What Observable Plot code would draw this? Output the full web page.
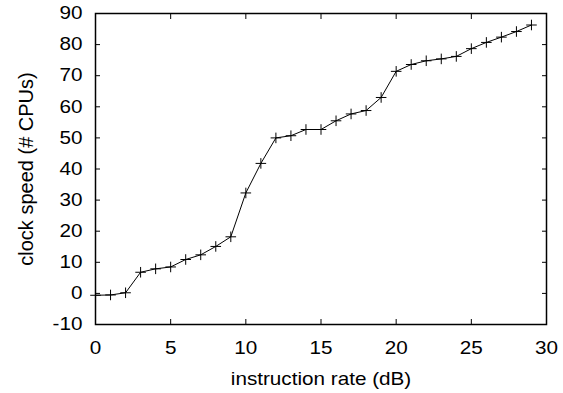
<!DOCTYPE html>
<html>
<head>
<meta charset="utf-8">
<script src="https://cdn.jsdelivr.net/npm/d3@7"></script>
<script src="https://cdn.jsdelivr.net/npm/@observablehq/plot@0.6"></script>
<style>
  html, body { margin: 0; padding: 0; background: #fff; }
  svg { font-family: "Liberation Sans", Arial, sans-serif; }
</style>
</head>
<body>
<div id="chart"></div>
<script>
const instructionRate = [0,1,2,3,4,5,6,7,8,9,10,11,12,13,14,15,16,17,18,19,20,21,22,23,24,25,26,27,28,29];
const clockSpeed = [-0.6,-0.5,0.2,6.8,7.9,8.5,10.9,12.4,15.1,18.2,32.3,41.8,50.0,50.7,52.7,52.7,55.5,57.7,58.8,63.0,71.4,73.6,74.8,75.4,76.2,78.7,80.7,82.4,84.2,86.3];
const xTicks = [0,5,10,15,20,25,30];
const yTicks = [-10,0,10,20,30,40,50,60,70,80,90];
const xLabel = "instruction rate (dB)";
const yLabel = "clock speed (# CPUs)";

const data = instructionRate.map((x, i) => ({x, y: clockSpeed[i]}));

const fs = 18;
const fmt = d => String(d);
const chart = Plot.plot({
  width: 563,
  height: 393,
  marginLeft: 95,
  marginRight: 17,
  marginTop: 13,
  marginBottom: 69,
  style: {fontFamily: '"Liberation Sans", Arial, sans-serif', background: "#fff", color: "#000"},
  x: {domain: [0, 30]},
  y: {domain: [-10, 90]},
  marks: [
    Plot.axisX({anchor: "bottom", ticks: xTicks, tickSize: -5, tickPadding: 22, tickFormat: fmt, fontSize: fs, label: null, stroke: "#000", strokeWidth: 1}),
    Plot.axisX({anchor: "top", ticks: xTicks, tickSize: -5, tickFormat: () => "", label: null, strokeWidth: 1}),
    Plot.axisY({anchor: "left", ticks: yTicks, tickSize: -5, tickPadding: 18, tickFormat: fmt, fontSize: fs, label: null, strokeWidth: 1}),
    Plot.axisY({anchor: "right", ticks: yTicks, tickSize: -5, tickFormat: () => "", label: null, strokeWidth: 1}),
    Plot.frame({stroke: "#000", strokeWidth: 1.5}),
    Plot.line(data, {x: "x", y: "y", stroke: "#000", strokeWidth: 1}),
    Plot.dot(data, {x: "x", y: "y", symbol: "plus", r: 3.5, stroke: "#000", strokeWidth: 1}),
    Plot.text([xLabel], {frameAnchor: "bottom", textAnchor: "middle", dy: 55, lineAnchor: "middle", fontSize: fs, fill: "#000"}),
    Plot.text([yLabel], {frameAnchor: "left", textAnchor: "middle", dx: -69, rotate: -90, lineAnchor: "middle", fontSize: 20, fill: "#000"})
  ]
});
document.getElementById("chart").appendChild(chart);
// slight horizontal widening of horizontal labels to match reference glyph proportions
d3.select(chart).selectAll("g[aria-label='x-axis tick label'] text, g[aria-label='y-axis tick label'] text")
  .each(function() {
    const t = this.getAttribute("transform") || "";
    this.setAttribute("transform", t + " scale(1.15,1)");
  });
d3.select(chart).selectAll("text")
  .filter(function() { return this.textContent === xLabel; })
  .each(function() {
    const t = this.getAttribute("transform") || "";
    this.setAttribute("transform", t + " scale(1.15,1)");
  });
</script>
</body>
</html>
